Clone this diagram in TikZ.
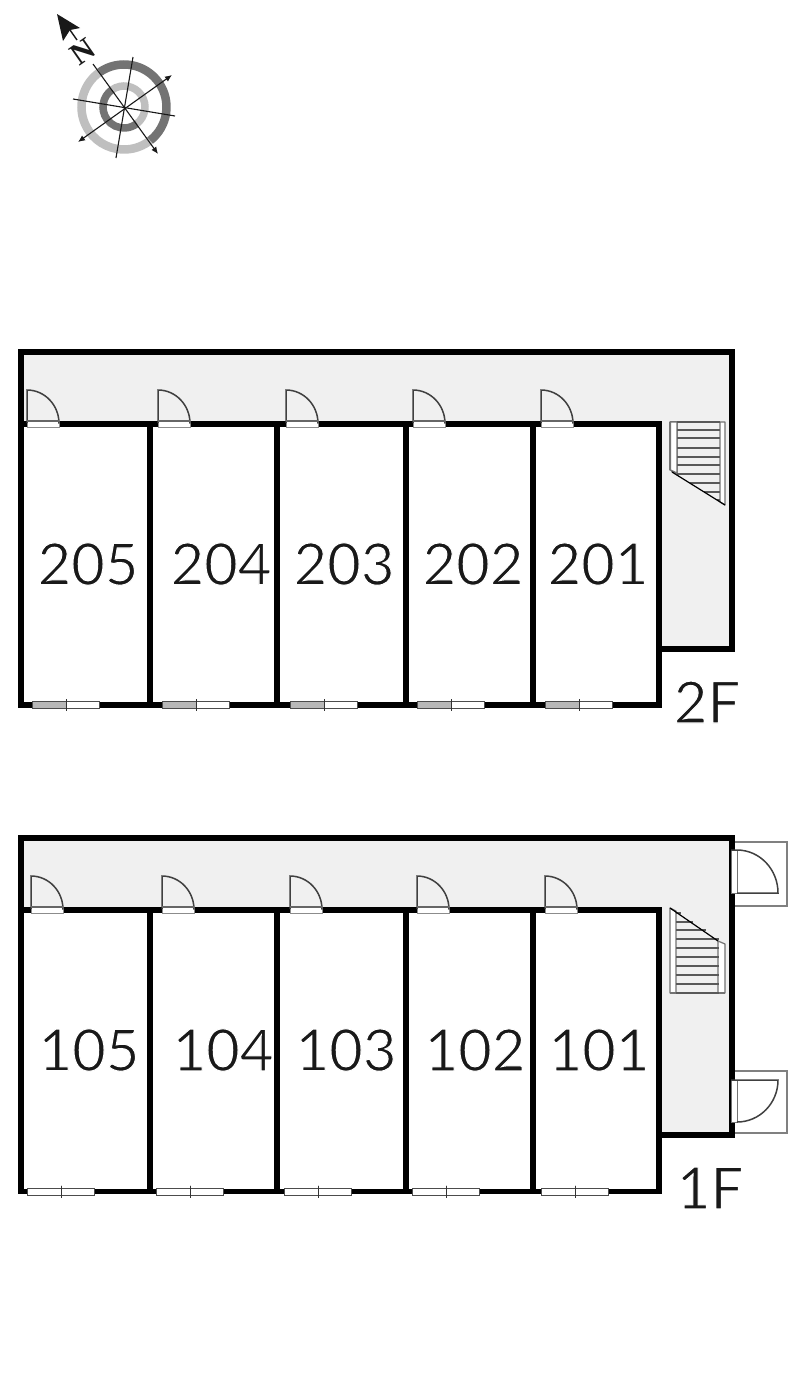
\documentclass[tikz,border=0pt]{standalone}
\usepackage{fontspec}
\setmainfont{Lato}
\newfontfamily\nfont{Liberation Serif}
\usetikzlibrary{arrows.meta}
\definecolor{corr}{gray}{0.94}
\definecolor{ringdark}{gray}{0.45}
\definecolor{ringlight}{gray}{0.75}
\definecolor{ink}{gray}{0.1}
\newcommand{\thintext}[1]{\special{pdf:code q 2 Tr 1 1 1 RG 1.1 w}#1\special{pdf:code Q}}
\tikzset{
  wall/.style={draw=black,line width=5.2pt,line join=miter},
  roomlabel/.style={font=\fontsize{58}{58}\selectfont,text=ink,inner sep=0pt},
  doorleaf/.style={draw=black!75,line width=1.5pt},
  sill/.style={draw=black!45,line width=1pt,fill=white},
  rail/.style={draw=black!55,line width=1.2pt,fill=white,line join=round},
  stepdark/.style={draw=black!65,line width=1.1pt},
  exterior/.style={draw=black!50,line width=1.2pt,fill=white},
  compassline/.style={draw=ink,line width=1.1pt},
  compassarrow/.style={draw=ink,line width=1.1pt,{Latex[length=7pt,width=6pt]}-{Latex[length=7pt,width=6pt]}}
}
\newcommand{\roomdoor}[2]{% left x, top y
  \draw[sill] (#1,#2+31) rectangle (#1+32,#2+37);
  \draw[doorleaf] (#1,#2+33) -- (#1,#2) arc[start angle=90,end angle=0,x radius=32,y radius=-33.5];
  \draw[black!60,line width=1.1pt] (#1,#2+31) -- (#1+32,#2+31);
}
\newcommand{\roomwin}[3]{% left x, wall y, fill
  \fill[#3] (#1,#2-3.5) rectangle (#1+34,#2+3.5);
  \fill[white] (#1+34,#2-3.5) rectangle (#1+67,#2+3.5);
  \draw[black!70,line width=0.9pt] (#1,#2-3.5) rectangle (#1+67,#2+3.5);
  \draw[black!80,line width=1pt] (#1+34,#2-6) -- (#1+34,#2+6);
}
\begin{document}
\begin{tikzpicture}[x=1pt,y=-1pt]
\useasboundingbox (0,0) rectangle (800,1373);
\fill[white] (0,0) rectangle (800,1373);

% ---------- compass ----------
\begin{scope}[shift={(124,107)},y=1pt]
\draw[ringlight,line width=8.5pt] (125:42.5) arc[start angle=125,end angle=308,radius=42.5];
\draw[ringdark,line width=8.5pt] (125:42.5) arc[start angle=125,end angle=-52,radius=42.5];
\draw[ringlight,line width=7.5pt] (125:21) arc[start angle=125,end angle=-52,radius=21];
\draw[ringdark,line width=7.5pt] (125:21) arc[start angle=125,end angle=308,radius=21];
\end{scope}
\coordinate (na) at (93,64);
\coordinate (nb) at (158,154);
\coordinate (aa) at (172,75);
\coordinate (ab) at (78,142);
\coordinate (la) at (133,57);
\coordinate (lb) at (116,158);
\coordinate (ma) at (73,99);
\coordinate (mb) at (175,116);
\coordinate (ta) at (77,40);
\coordinate (tb) at (70,30);
\draw[compassline,-{Latex[length=7pt,width=6pt]}] (na) -- (nb);
\draw[compassarrow] (aa) -- (ab);
\draw[compassline] (la) -- (lb);
\draw[compassline] (ma) -- (mb);
\draw[compassline,line width=1.4pt] (ta) -- (tb);
\fill[ink] (57,14) -- (80,28) -- (70,30) -- (63,41) -- cycle;
\node[rotate=35,font=\nfont\bfseries\fontsize{31}{31}\selectfont,text=ink,inner sep=0pt] (north) at (83,52) {N};

% ---------- 2F ----------
\fill[corr] (21,352) rectangle (732,424);
\fill[corr] (659,424) rectangle (732,649);
\draw[wall] (21,424) -- (21,352) -- (732,352) -- (732,649) -- (659,649);
\draw[wall] (21,424) rectangle (659,705);
\foreach \x in {150,277,406,533} \draw[wall] (\x,424) -- (\x,705);
\foreach \x in {27,158,286,413,541} \roomdoor{\x}{390}
\foreach \x in {32,162,290,417,545} \roomwin{\x}{705}{black!28}
% stairs 2F
\draw[rail] (670.5,422) -- (677,422) -- (677,473) -- (670.5,470) -- cycle;
\draw[rail] (720,422) -- (725,422) -- (725,505) -- (720,502) -- cycle;
\foreach \xa/\y in {677/422,677/430,677/438,677/448,677/457,677/465,677/474,690/483,704/492,717/500}
  \draw[stepdark] (\xa,\y) -- (720,\y);
\draw[black,line width=1.2pt] (672,472) -- (725,505);
\foreach \t/\x in {205/88,204/221,203/344,202/473,201/598}
  \node[roomlabel] (r\t) at (\x,564) {\thintext{\t}};
\node[roomlabel] (f2) at (707,702) {\thintext{2F}};

% ---------- 1F ----------
\fill[corr] (21,838) rectangle (732,910);
\fill[corr] (659,910) rectangle (732,1135);
% exterior doors
\draw[exterior] (732,842) rectangle (787,906);
\draw[exterior] (732,1071) rectangle (787,1133);
\draw[wall] (21,910) -- (21,838) -- (732,838) -- (732,1135) -- (659,1135);
\draw[wall] (21,910) rectangle (659,1191.5);
\foreach \x in {150,277,406,533} \draw[wall] (\x,910) -- (\x,1191.5);
\foreach \x in {31,162,290,417,545} \roomdoor{\x}{876}
\foreach \x in {27,156,284,412,541} \roomwin{\x}{1191.5}{white}
% exterior door leaves
\draw[sill,draw=black!55] (731,850) rectangle (737,893);
\draw[doorleaf] (737,893) -- (778,893) arc[start angle=0,end angle=90,x radius=41,y radius=-43] -- (731,850);
\draw[sill,draw=black!55] (731,1080) rectangle (737,1122);
\draw[doorleaf] (731,1080) -- (778,1080) arc[start angle=0,end angle=90,x radius=41,y radius=42];
% stairs 1F
\draw[rail] (670,908) -- (676,911) -- (676,993) -- (670,993) -- cycle;
\draw[rail] (718,941) -- (725,944) -- (725,993) -- (718,993) -- cycle;
\draw[rail] (670,993) -- (725,993);
\foreach \xb/\y in {681/913,693/922,706/930,719/939,719/948,719/957,719/966,719/975,719/984,719/993}
  \draw[stepdark] (676,\y) -- (\xb,\y);
\draw[black,line width=1.2pt] (670,908) -- (718,941);
\foreach \t/\x in {105/89,104/223,103/346,102/475,101/599}
  \node[roomlabel] (r\t) at (\x,1050) {\thintext{\t}};
\node[roomlabel] (f1) at (710,1188) {\thintext{1F}};
\end{tikzpicture}
\end{document}
